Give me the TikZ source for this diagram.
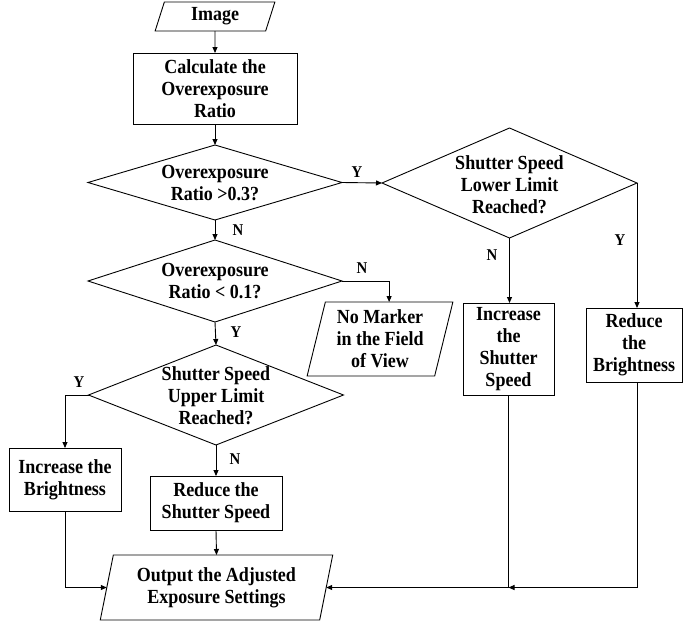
\documentclass[tikz,border=0pt]{standalone}
\usepackage{fontspec}
\setmainfont{Liberation Serif}[FakeStretch=0.9]
\usetikzlibrary{shapes.geometric,arrows.meta,calc}
\begin{document}
\begin{tikzpicture}[x=1pt,y=-1pt,
  every node/.style={font=\bfseries\fontsize{20}{22}\selectfont, align=center, inner sep=0pt, outer sep=0pt},
  box/.style={draw, rectangle, line width=0.9pt},
  para/.style={draw, trapezium, trapezium left angle=76, trapezium right angle=104, trapezium stretches=true, line width=0.9pt},
  dec/.style={draw, diamond, line width=0.9pt},
  lbl/.style={font=\bfseries\fontsize{16.5}{18}\selectfont},
  arr/.style={line width=0.9pt, -{Triangle[length=6pt,width=5pt]}},
  ln/.style={line width=0.9pt}]
\useasboundingbox (0,0) rectangle (683,622);

\node[para, minimum width=120pt, minimum height=29pt] (img) at (215,16.5) {Image};
\node[box, minimum width=164pt, minimum height=71pt] (calc) at (215,88.5) {Calculate the\\Overexposure\\Ratio};
\node[dec, minimum width=254pt, minimum height=75pt] (d1) at (215,182.5) {};
\node (d1t) at (215,183) {Overexposure\\Ratio >0.3?};
\node[dec, minimum width=255pt, minimum height=110pt] (d2) at (509.5,183) {};
\node (d2t) at (509.5,185) {Shutter Speed\\Lower Limit\\Reached?};
\node[dec, minimum width=254pt, minimum height=82pt] (d3) at (215,281) {};
\node (d3t) at (215,281) {Overexposure\\Ratio < 0.1?};
\node[para, minimum width=146pt, minimum height=74pt] (nm) at (380,339) {No Marker\\in the Field\\of View};
\node[box, minimum width=91pt, minimum height=92pt] (incS) at (508.5,349) {Increase\\the\\Shutter\\Speed};
\node[box, minimum width=96pt, minimum height=74pt] (redB) at (634,345) {Reduce\\the\\Brightness};
\node[dec, minimum width=255pt, minimum height=100pt] (d4) at (216,395) {};
\node (d4t) at (216,396) {Shutter Speed\\Upper Limit\\Reached?};
\node[box, minimum width=112pt, minimum height=63pt] (incB) at (65,479.5) {Increase the\\Brightness};
\node[box, minimum width=132pt, minimum height=54pt] (redS) at (216,503) {Reduce the\\Shutter Speed};
\node[para, minimum width=233pt, minimum height=65pt] (out) at (216.5,587.5) {Output the Adjusted\\Exposure Settings};

% connectors
\draw[arr] (img.south) -- (calc.north);
\draw[arr] (calc.south) -- (d1.north);
\draw[arr] (d1.east) -- (d2.west);
\draw[arr] (d1.south) -- (d3.north);
\draw[arr] (d3.east) -| (nm.top side);
\draw[arr] (d3.south) -- (d4.north);
\draw[arr] (d4.west) -| (incB.north);
\draw[arr] (d4.south) -- (redS.north);
\draw[arr] (redS.south) -- (out.north);
\draw[arr] (incB.south) |- (out.west);
\draw[arr] (d2.south) -- (d2.south |- incS.north);
\draw[arr] (d2.east) -- (d2.east |- redB.north);
\draw[arr] (incS.south) |- (out.east);
\draw[arr] (d2.east |- redB.south) |- (incS.south |- out.east);

% labels
\node[lbl] (l1) at (357,172) {Y};
\node[lbl] (l2) at (238,230) {N};
\node[lbl] (l3) at (362,268) {N};
\node[lbl] (l4) at (236,332) {Y};
\node[lbl] (l5) at (620,240) {Y};
\node[lbl] (l6) at (492,255) {N};
\node[lbl] (l7) at (79,382) {Y};
\node[lbl] (l8) at (235,459) {N};
\end{tikzpicture}
\end{document}
